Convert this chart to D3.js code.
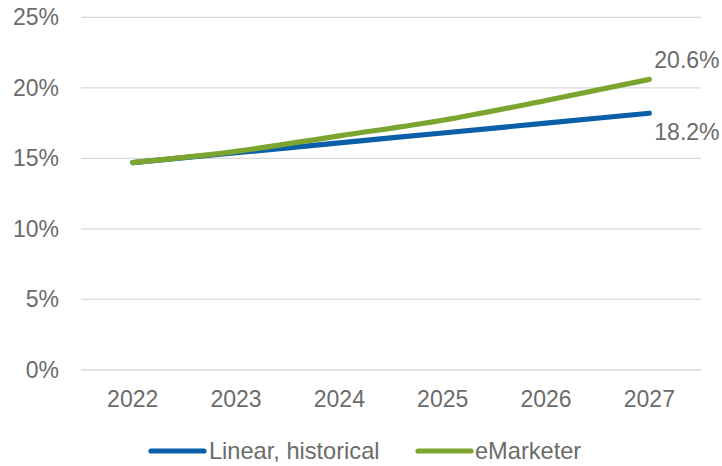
<!DOCTYPE html>
<html>
<head>
<meta charset="utf-8">
<script src="https://cdn.jsdelivr.net/npm/d3@7"></script>
<style>
  html, body { margin: 0; padding: 0; background: #fff; }
  svg { display: block; font-family: "Liberation Sans", Arial, sans-serif; }
</style>
</head>
<body>
<svg id="chart" width="722" height="466"></svg>
<script>
// Share projections by year
const years = ["2022", "2023", "2024", "2025", "2026", "2027"];
const linearHistorical = [14.7, 15.4, 16.1, 16.8, 17.5, 18.2];
const eMarketer = [14.7, 15.5, 16.6, 17.7, 19.1, 20.6];
const yTicks = [0, 5, 10, 15, 20, 25];
const seriesNames = ["Linear, historical", "eMarketer"];
const seriesColors = ["#0b5ea8", "#7ba52f"];

(function () {
  const svg = d3.select("#chart");
  const textColor = "#6b6b6b";
  const fontSize = 23;
  const plotLeft = 81, plotRight = 701, plotTop = 17.3, plotBottom = 370;

  const x = d3.scaleBand().domain(years).range([plotLeft, plotRight]);
  const y = d3.scaleLinear().domain([0, 25]).range([plotBottom, plotTop]);

  // Gridlines
  svg.append("g")
    .selectAll("line")
    .data(yTicks)
    .join("line")
    .attr("x1", plotLeft).attr("x2", plotRight)
    .attr("y1", d => y(d)).attr("y2", d => y(d))
    .attr("stroke", "#d9d9d9").attr("stroke-width", 1.3);

  // Y axis labels
  const yAxis = svg.append("g")
    .attr("transform", `translate(${plotLeft},0)`)
    .call(d3.axisLeft(y).tickValues(yTicks).tickFormat(d => d + "%").tickSize(0).tickPadding(22));
  yAxis.select(".domain").remove();
  yAxis.selectAll("text").attr("fill", textColor).attr("font-size", fontSize)
    .attr("font-family", "Liberation Sans, Arial, sans-serif");

  // X axis labels
  const xAxis = svg.append("g")
    .attr("transform", `translate(0,${plotBottom})`)
    .call(d3.axisBottom(x).tickSize(0).tickPadding(21));
  xAxis.select(".domain").remove();
  xAxis.selectAll("text").attr("fill", textColor).attr("font-size", fontSize)
    .attr("font-family", "Liberation Sans, Arial, sans-serif");

  // Lines
  const series = [linearHistorical, eMarketer];
  const line = d3.line()
    .x((d, i) => x(years[i]) + x.bandwidth() / 2)
    .y(d => y(d))
    .curve(d3.curveMonotoneX);

  series.forEach((vals, k) => {
    svg.append("path")
      .datum(vals)
      .attr("d", line)
      .attr("fill", "none")
      .attr("stroke", seriesColors[k])
      .attr("stroke-width", 5.2)
      .attr("stroke-linecap", "round")
      .attr("stroke-linejoin", "round");
  });

  // End value labels
  const lastX = x(years[years.length - 1]) + x.bandwidth() / 2;
  svg.append("text")
    .attr("x", lastX + 5).attr("y", y(eMarketer[5]) - 11)
    .attr("fill", textColor).attr("font-size", fontSize)
    .text(eMarketer[5].toFixed(1) + "%");
  svg.append("text")
    .attr("x", lastX + 5).attr("y", y(linearHistorical[5]) + 27)
    .attr("fill", textColor).attr("font-size", fontSize)
    .text(linearHistorical[5].toFixed(1) + "%");

  // Legend
  const legendItems = [
    { x1: 151, x2: 204, tx: 209 },
    { x1: 418, x2: 471, tx: 475 }
  ];
  const legend = svg.append("g");
  legendItems.forEach((it, k) => {
    legend.append("line")
      .attr("x1", it.x1).attr("x2", it.x2)
      .attr("y1", 451).attr("y2", 451)
      .attr("stroke", seriesColors[k]).attr("stroke-width", 5.2)
      .attr("stroke-linecap", "round");
    legend.append("text")
      .attr("x", it.tx).attr("y", 451).attr("dy", "0.35em")
      .attr("fill", textColor).attr("font-size", 23.6)
      .text(seriesNames[k]);
  });
})();
</script>
</body>
</html>
